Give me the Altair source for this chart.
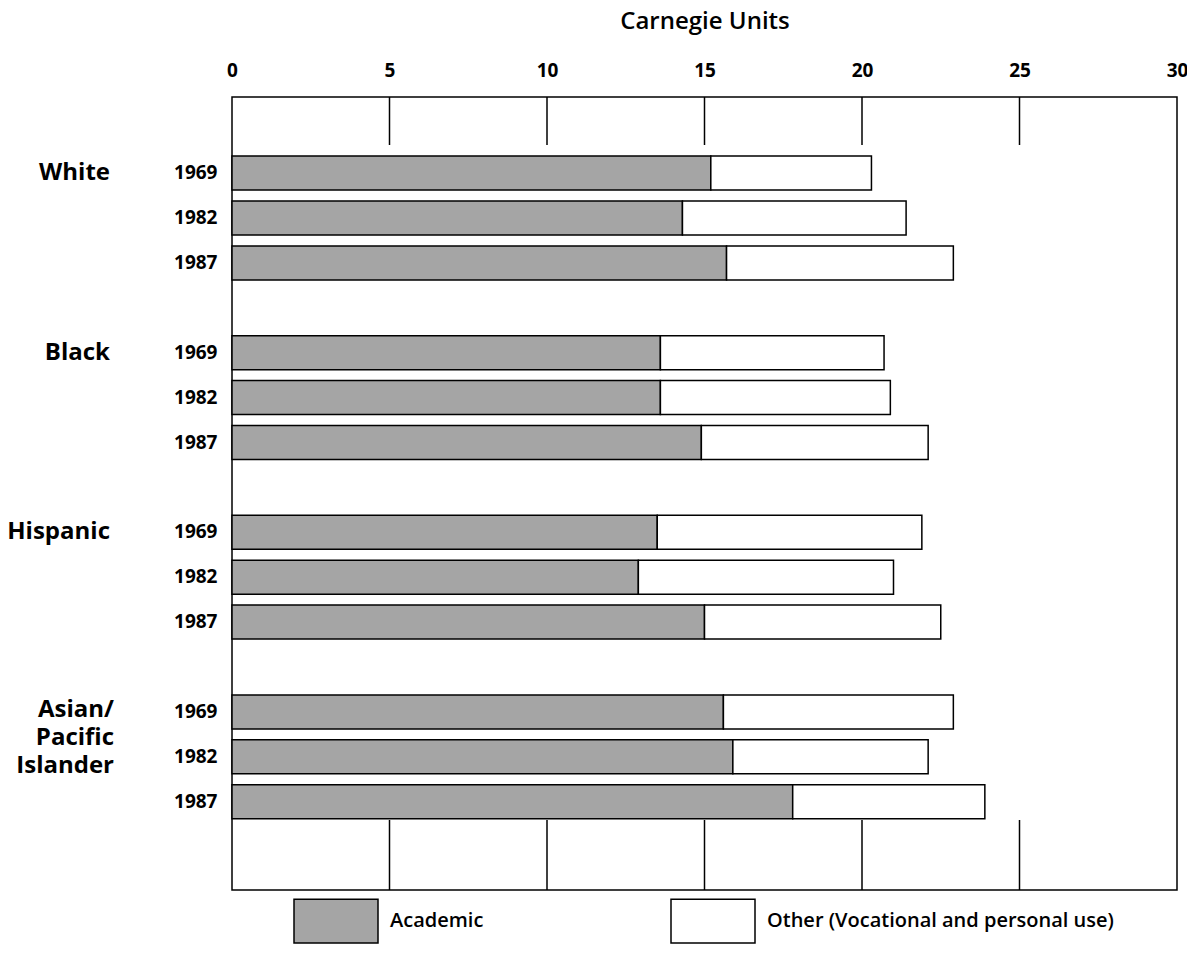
import altair as alt
import pandas as pd

groups = ["White", "Black", "Hispanic", "Asian/Pacific Islander"]
group_labels = ["White", "Black", "Hispanic", "Asian/\nPacific\nIslander"]
years = ["1969", "1982", "1987"]
academic = [15.2, 14.3, 15.7, 13.6, 13.6, 14.9, 13.5, 12.9, 15.0, 15.6, 15.9, 17.8]
other = [5.1, 7.1, 7.2, 7.1, 7.3, 7.2, 8.4, 8.1, 7.5, 7.3, 6.2, 6.1]
series = ["Academic", "Other (Vocational and personal use)"]
tick_labels = [0, 5, 10, 15, 20, 25, 30]
inner_ticks = [5, 10, 15, 20, 25]

FONT = "Open Sans"
W, H = 945, 793

# build table
rows = []
domain = ["gap_top"]
for gi, g in enumerate(groups):
    for yi, yr in enumerate(years):
        k = gi * 3 + yi
        key = f"{g}|{yr}"
        domain.append(key)
        rows.append(dict(row=key, series=series[0], value=academic[k], order=0))
        rows.append(dict(row=key, series=series[1], value=other[k], order=1))
    domain.append(f"gap{gi}")
df = pd.DataFrame(rows)

lab_df = pd.DataFrame({"row": [f"{g}|{years[0]}" for g in groups], "label": group_labels,
                       "multi": [0, 0, 0, 1]})
tick_df = pd.DataFrame({"value": inner_ticks})

yscale = alt.Scale(domain=domain, paddingInner=0.243, paddingOuter=0.452, align=0.35)
xscale = alt.Scale(domain=[0, 30], nice=False, zero=True)

bars = alt.Chart(df).mark_bar(stroke="black", strokeWidth=1.5).encode(
    x=alt.X("value:Q", stack="zero", scale=xscale,
            axis=alt.Axis(orient="top", values=tick_labels, title="Carnegie Units",
                          grid=False, ticks=False, domain=False, labelPadding=17,
                          labelFontSize=19, labelFont=FONT, labelFontWeight="bold",
                          labelColor="black", titleFont=FONT, titleFontSize=24,
                          titleFontWeight=600, titleColor="black", titlePadding=28,
                          labelFlush=False)),
    y=alt.Y("row:N", scale=yscale, sort=domain,
            axis=alt.Axis(title=None, ticks=False, domain=False, labelPadding=15,
                          labelFontSize=19, labelFont=FONT, labelFontWeight="bold",
                          labelColor="black", labelOverlap=False,
                          labelExpr="indexof(datum.value,'|')>0 ? split(datum.value,'|')[1] : ''")),
    color=alt.Color("series:N", scale=alt.Scale(domain=series, range=["#a5a5a5", "#ffffff"]),
                    legend=alt.Legend(title=None, orient="none", legendX=61, legendY=781,
                                      direction="horizontal",
                                      symbolType="M-1,-0.52L1,-0.52L1,0.52L-1,0.52Z",
                                      symbolSize=7056, symbolStrokeColor="black",
                                      symbolStrokeWidth=1.5, symbolOpacity=1,
                                      labelFont=FONT, labelFontSize=20, labelFontWeight=600,
                                      labelColor="black", labelOffset=11, columnPadding=184,
                                      labelLimit=500)),
    order=alt.Order("order:Q"),
)

top_ticks = alt.Chart(tick_df).mark_rule(color="black", strokeWidth=1.5).encode(
    x=alt.X("value:Q", scale=xscale), y=alt.value(0), y2=alt.value(48))
bottom_ticks = alt.Chart(tick_df).mark_rule(color="black", strokeWidth=1.5).encode(
    x=alt.X("value:Q", scale=xscale), y=alt.value(H - 70), y2=alt.value(H))

labels_single = alt.Chart(lab_df).transform_filter("datum.multi == 0").mark_text(
    align="right", baseline="middle", font=FONT, fontSize=24, fontWeight="bold",
    color="black").encode(
    x=alt.value(-122), y=alt.Y("row:N", scale=yscale), text="label:N")
labels_multi = alt.Chart(lab_df).transform_filter("datum.multi == 1").mark_text(
    align="right", baseline="top", font=FONT, fontSize=24, fontWeight="bold",
    color="black", lineBreak="\n", lineHeight=28, dy=-14).encode(
    x=alt.value(-118), y=alt.Y("row:N", scale=yscale), text="label:N")

chart = alt.layer(bars, top_ticks, bottom_ticks, labels_single, labels_multi).properties(
    width=W, height=H,
    autosize=alt.AutoSizeParams(type="none"),
    padding={"left": 224, "top": 89, "right": 10, "bottom": 55},
    background="white",
).configure_view(stroke="black", strokeWidth=1.5)

chart.save("out.html", embed_options={"renderer": "svg", "actions": False})
